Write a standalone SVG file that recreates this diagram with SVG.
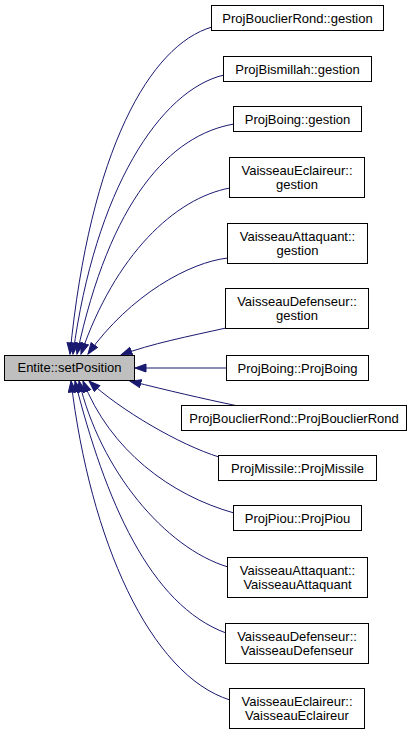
<svg xmlns="http://www.w3.org/2000/svg" width="419" height="735" viewBox="0 0 419 735">
<style>
.node rect{fill:#ffffff;stroke:#000000;stroke-width:1}
.main rect{fill:#bfbfbf}
text{font-family:"Liberation Sans",Arial,sans-serif;font-size:13px;fill:#000000;text-anchor:middle}
.edge{fill:none;stroke:#191970;stroke-width:1;marker-end:url(#arr)}
</style>
<defs>
<marker id="arr" markerUnits="userSpaceOnUse" markerWidth="13" markerHeight="10" refX="11.5" refY="4.5" orient="auto" viewBox="0 0 13 10">
<path d="M0.5,0.5 L11.5,4.5 L0.5,8.5 z" fill="#191970" stroke="#191970" stroke-width="1"/>
</marker>
</defs>
<rect width="419" height="735" fill="#ffffff"/>
<g id="edges">
<path class="edge" d="M212,27 C150,45 90,150 70,354"/>
<path class="edge" d="M224,75 C160,90 95,190 73,354"/>
<path class="edge" d="M234,124 C170,135 110,200 77,354"/>
<path class="edge" d="M230,188 C175,198 115,255 81,354"/>
<path class="edge" d="M228,258 C190,262 130,295 88,354"/>
<path class="edge" d="M226,328 C190,336 150,344 121,355"/>
<path class="edge" d="M227,368 L135,368"/>
<path class="edge" d="M238,406 C200,398 170,391 130,381"/>
<path class="edge" d="M219,457 C180,445 120,410 89,381"/>
<path class="edge" d="M234,513 C170,495 110,450 83,381"/>
<path class="edge" d="M228,567 C165,548 100,470 79,381"/>
<path class="edge" d="M226,633 C150,605 105,500 75,381"/>
<path class="edge" d="M230,700 C150,675 90,540 71,381"/>
</g>
<g id="n_main" class="node main"><rect x="4.5" y="355.5" width="130" height="25"/><text x="69.5" y="372">Entite::setPosition</text></g>
<g id="n1" class="node"><rect x="211.5" y="5.5" width="172" height="25"/><text x="297.5" y="22.5">ProjBouclierRond::gestion</text></g>
<g id="n2" class="node"><rect x="223.5" y="56.5" width="148" height="25"/><text x="297.5" y="73.5">ProjBismillah::gestion</text></g>
<g id="n3" class="node"><rect x="233.5" y="106.5" width="128" height="25"/><text x="297.5" y="123.5">ProjBoing::gestion</text></g>
<g id="n4" class="node"><rect x="229.5" y="157.5" width="135" height="40"/><text x="297" y="174.5">VaisseauEclaireur::</text><text x="297" y="188.5">gestion</text></g>
<g id="n5" class="node"><rect x="227.5" y="223.5" width="140" height="40"/><text x="297.5" y="240.5">VaisseauAttaquant::</text><text x="297.5" y="254.5">gestion</text></g>
<g id="n6" class="node"><rect x="225.5" y="288.5" width="143" height="40"/><text x="297" y="305.5">VaisseauDefenseur::</text><text x="297" y="319.5">gestion</text></g>
<g id="n7" class="node"><rect x="226.5" y="355.5" width="142" height="25"/><text x="297.5" y="372.5">ProjBoing::ProjBoing</text></g>
<g id="n8" class="node"><rect x="181.5" y="405.5" width="225" height="25"/><text x="294" y="422.5">ProjBouclierRond::ProjBouclierRond</text></g>
<g id="n9" class="node"><rect x="218.5" y="455.5" width="158" height="25"/><text x="297.5" y="472.5">ProjMissile::ProjMissile</text></g>
<g id="n10" class="node"><rect x="233.5" y="505.5" width="128" height="25"/><text x="297.5" y="522.5">ProjPiou::ProjPiou</text></g>
<g id="n11" class="node"><rect x="227.5" y="557.5" width="140" height="40"/><text x="297.5" y="574.5">VaisseauAttaquant::</text><text x="297.5" y="588.5">VaisseauAttaquant</text></g>
<g id="n12" class="node"><rect x="225.5" y="623.5" width="143" height="40"/><text x="297" y="640.5">VaisseauDefenseur::</text><text x="297" y="654.5">VaisseauDefenseur</text></g>
<g id="n13" class="node"><rect x="229.5" y="688.5" width="135" height="40"/><text x="297" y="705.5">VaisseauEclaireur::</text><text x="297" y="719.5">VaisseauEclaireur</text></g>
</svg>
